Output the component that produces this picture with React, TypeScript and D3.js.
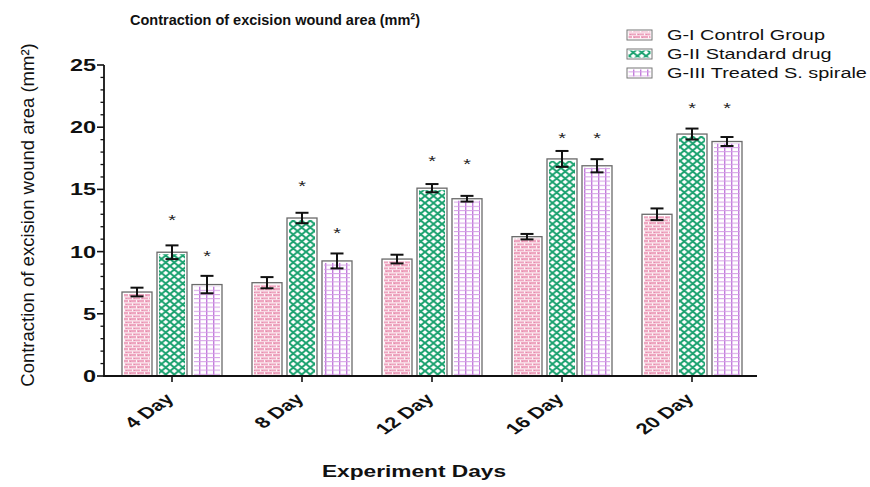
import React from "react";
import * as d3 from "d3";

const categories = ["4 Day", "8 Day", "12 Day", "16 Day", "20 Day"];
const groups = ["G-I Control Group", "G-II Standard drug", "G-III Treated S. spirale"];
const controlMeans = [6.75, 7.5, 9.4, 11.2, 13.0];
const controlErr = [0.35, 0.45, 0.35, 0.22, 0.47];
const standardMeans = [9.95, 12.7, 15.1, 17.45, 19.45];
const standardErr = [0.55, 0.42, 0.33, 0.64, 0.44];
const treatedMeans = [7.35, 9.25, 14.25, 16.9, 18.85];
const treatedErr = [0.7, 0.6, 0.23, 0.53, 0.36];
const controlStars: (number | null)[] = [null, null, null, null, null];
const standardStars: (number | null)[] = [12.8, 15.5, 17.5, 19.4, 21.8];
const treatedStars: (number | null)[] = [9.85, 11.7, 17.3, 19.4, 21.8];
const yTicks = [0, 5, 10, 15, 20, 25];

const seriesMeans = [controlMeans, standardMeans, treatedMeans];
const seriesErr = [controlErr, standardErr, treatedErr];
const seriesStars = [controlStars, standardStars, treatedStars];
const patternIds = ["patPink", "patGreen", "patPurple"];

const W = 870;
const H = 487;
const SX = 1.42;
const FONT = "'Liberation Sans', Arial, Helvetica, sans-serif";

export default function App() {
  const y = d3.scaleLinear().domain([0, 25]).range([376, 65]);
  const x = d3.scaleBand<string>().domain(categories).range([107, 757]).padding(0);
  const inner = d3
    .scaleBand<string>()
    .domain(groups)
    .range([-52.5, 52.5])
    .paddingInner(1 / 7)
    .paddingOuter(1 / 14);
  const bw = inner.bandwidth();
  const minorTicks = d3.range(0, 26, 1).filter((v) => v % 5 !== 0);

  return (
    <svg
      width={W}
      height={H}
      style={{ position: "absolute", left: 0, top: 0, background: "#fff" }}
      fontFamily={FONT}
    >
      <defs>
        <pattern id="patPink" patternUnits="userSpaceOnUse" width={8} height={6}>
          <rect width={8} height={6} fill="#eea6c0" />
          <rect x={0} y={2.4} width={8} height={1} fill="#fff" opacity={0.9} />
          <rect x={0} y={5.4} width={8} height={1} fill="#fff" opacity={0.9} />
          <rect x={0} y={0} width={1} height={2.4} fill="#fff" opacity={0.9} />
          <rect x={4} y={3.3} width={1} height={2.1} fill="#fff" opacity={0.9} />
          <rect x={2} y={1} width={1} height={1} fill="#e07aa0" opacity={0.6} />
          <rect x={6} y={4} width={1} height={1} fill="#e07aa0" opacity={0.6} />
        </pattern>
        <pattern id="patGreen" patternUnits="userSpaceOnUse" width={8.5} height={7}>
          <rect width={8.5} height={7} fill="#fff" />
          <path
            d="M-4.25,-3.5 L12.75,10.5 M12.75,-3.5 L-4.25,10.5"
            stroke="#1ca270"
            strokeWidth={2}
          />
        </pattern>
        <pattern id="patPurple" patternUnits="userSpaceOnUse" width={7} height={4.2}>
          <rect width={7} height={4.2} fill="#fff" />
          <rect x={3} y={0} width={1.4} height={4.2} fill="#c27cdb" />
          <rect x={0} y={0} width={7} height={1} fill="#d5a0e6" />
        </pattern>
      </defs>

      {/* Title */}
      <text
        x={130}
        y={24.5}
        fontSize={15.5}
        fontWeight="bold"
        fill="#111"
        textLength={290}
        lengthAdjust="spacingAndGlyphs"
      >
        Contraction of excision wound area (mm²)
      </text>

      {/* Y axis label */}
      <text
        transform="translate(34,215) rotate(-90)"
        textAnchor="middle"
        fontSize={18.5}
        fill="#111"
      >
        Contraction of excision wound area (mm²)
      </text>

      {/* Bars */}
      {categories.map((c, ci) => (
        <g key={c}>
          {groups.map((g, gi) => {
            const bx = (x(c) as number) + x.bandwidth() / 2 + (inner(g) as number);
            const v = seriesMeans[gi][ci];
            const top = y(v);
            return (
              <g key={g}>
                <rect x={bx} y={top} width={bw} height={y(0) - top} fill="#fff" stroke="#6a6a6a" strokeWidth={1.3} />
                <rect
                  x={bx + 2}
                  y={top + 2}
                  width={bw - 4}
                  height={y(0) - top - 2}
                  fill={`url(#${patternIds[gi]})`}
                />
              </g>
            );
          })}
        </g>
      ))}

      {/* Error bars */}
      {categories.map((c, ci) =>
        groups.map((g, gi) => {
          const cx = (x(c) as number) + x.bandwidth() / 2 + (inner(g) as number) + bw / 2;
          const v = seriesMeans[gi][ci];
          const e = seriesErr[gi][ci];
          const y1 = y(v + e);
          const y2 = y(v - e);
          return (
            <g key={c + g} stroke="#111" strokeWidth={2}>
              <line x1={cx} x2={cx} y1={y1} y2={y2} />
              <line x1={cx - 6.5} x2={cx + 6.5} y1={y1} y2={y1} />
              <line x1={cx - 6.5} x2={cx + 6.5} y1={y2} y2={y2} />
            </g>
          );
        })
      )}

      {/* Stars */}
      {categories.map((c, ci) =>
        groups.map((g, gi) => {
          const s = seriesStars[gi][ci];
          if (s == null) return null;
          const cx = (x(c) as number) + x.bandwidth() / 2 + (inner(g) as number) + bw / 2;
          return (
            <text
              key={"s" + c + g}
              transform={`translate(${cx},${y(s) + 8}) scale(${SX},1)`}
              textAnchor="middle"
              fontSize={14}
              fill="#222"
            >
              *
            </text>
          );
        })
      )}

      {/* Y axis */}
      <line x1={104} x2={104} y1={y(25)} y2={y(0) + 1} stroke="#111" strokeWidth={1.8} />
      {yTicks.map((t) => (
        <g key={t}>
          <line x1={97} x2={104} y1={y(t)} y2={y(t)} stroke="#111" strokeWidth={1.6} />
          <text
            transform={`translate(96,${y(t) + 6}) scale(${SX},1)`}
            textAnchor="end"
            fontSize={16.5}
            fontWeight="bold"
            fill="#111"
          >
            {t}
          </text>
        </g>
      ))}
      {minorTicks.map((t) => (
        <line key={"m" + t} x1={100.5} x2={104} y1={y(t)} y2={y(t)} stroke="#111" strokeWidth={1.3} />
      ))}

      {/* X axis */}
      <line x1={103} x2={757} y1={y(0)} y2={y(0)} stroke="#111" strokeWidth={1.8} />
      {categories.map((c) => {
        const cx = (x(c) as number) + x.bandwidth() / 2;
        return (
          <g key={"x" + c}>
            <line x1={cx} x2={cx} y1={y(0)} y2={y(0) + 6} stroke="#111" strokeWidth={1.6} />
            <text
              transform={`translate(${cx + 3},400) scale(${SX},1) rotate(-45)`}
              textAnchor="end"
              fontSize={15.5}
              fontWeight="bold"
              fill="#111"
            >
              {c}
            </text>
          </g>
        );
      })}

      {/* X axis title */}
      <text
        transform={`translate(414,476.5) scale(${SX},1)`}
        textAnchor="middle"
        fontSize={16}
        fontWeight="bold"
        fill="#111"
      >
        Experiment Days
      </text>

      {/* Legend */}
      {groups.map((g, gi) => {
        const cy = 35 + gi * 19;
        return (
          <g key={"l" + g}>
            <rect x={627} y={cy - 5} width={25} height={10} fill="#fff" stroke="#777" strokeWidth={1} />
            <rect x={628.5} y={cy - 3.5} width={22} height={7} fill={`url(#${patternIds[gi]})`} />
            <text
              transform={`translate(667,${cy + 5}) scale(${SX},1)`}
              fontSize={14}
              fill="#111"
            >
              {g}
            </text>
          </g>
        );
      })}
    </svg>
  );
}
